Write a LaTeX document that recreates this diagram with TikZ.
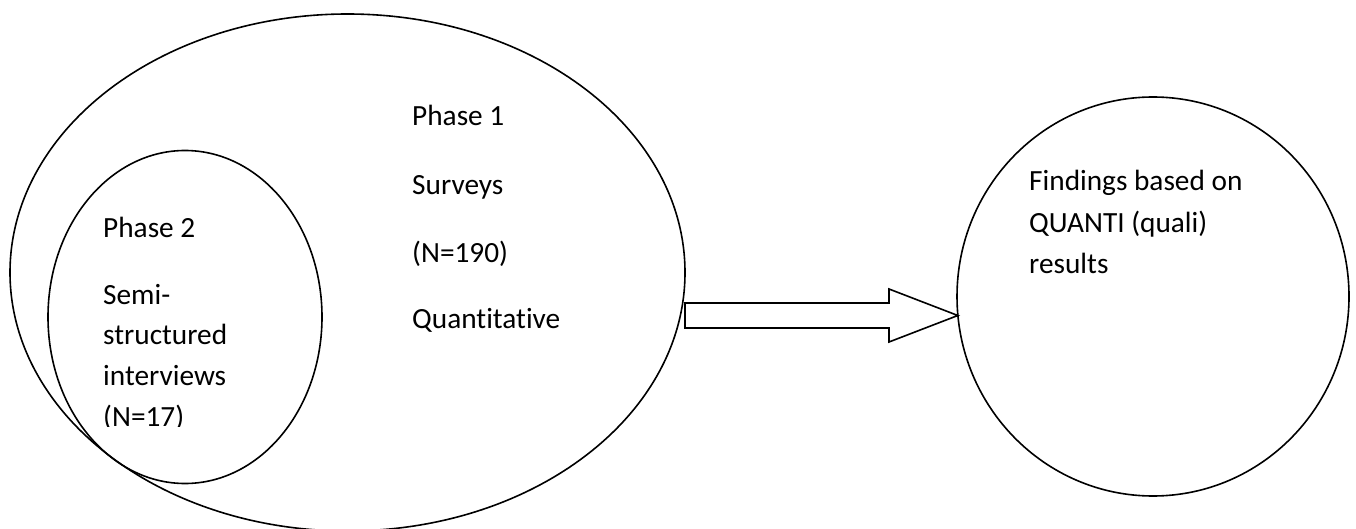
\documentclass[tikz,border=0pt]{standalone}
\usepackage{fontspec}
\setmainfont{Carlito}[Ligatures=NoCommon]
\usetikzlibrary{shapes.geometric,calc}
\begin{document}
\begin{tikzpicture}[x=1pt,y=-1pt,
  outline/.style={draw=black,line width=1.6pt,inner sep=0pt,outer sep=0pt},
  txt/.style={anchor=base west,inner sep=0pt,font=\fontsize{29.3}{35}\selectfont}]
\useasboundingbox (0,0) rectangle (1356,529);
% phase ovals
\node[outline,ellipse,minimum width=675pt,minimum height=517pt] (phase1) at (347.5,272.5) {};
\node[outline,ellipse,minimum width=274pt,minimum height=333pt] (phase2) at (185,317) {};
% result oval
\node[outline,ellipse,minimum width=392pt,minimum height=399pt] (findings) at (1153,296.5) {};
% block arrow from the study phases to the findings
\coordinate (tail) at (phase1.east |- 0,315.5);
\coordinate (tip) at (957.8,315.5);
\draw[line width=1.6pt,line join=miter]
  ($(tail)+(0,-12.5)$) -- ($(tip)+(-68.8,-12.5)$) -- ($(tip)+(-68.8,-26.5)$) -- (tip)
  -- ($(tip)+(-68.8,26.5)$) -- ($(tip)+(-68.8,12.5)$) -- ($(tail)+(0,12.5)$) -- cycle;
% phase 1 text
\node[txt] (p1a) at (412,126) {Phase 1};
\node[txt] (p1b) at (412,195) {Surveys};
\node[txt] (p1c) at (412,262) {(N=190)};
\node[txt] (p1d) at (412,328) {Quantitative};
% phase 2 text (last line cut by its text box)
\node[txt] (p2a) at (103,237) {Phase 2};
\node[txt] (p2b) at (103,304) {Semi-};
\node[txt] (p2c) at (103,344) {structured};
\node[txt] (p2d) at (103,385) {interviews};
\begin{scope}
  \clip (90,390) rectangle (300,426.5);
  \node[txt] (p2e) at (103,426) {(N=17)};
\end{scope}
% findings text
\node[txt] (f1) at (1029,191) {Findings based on};
\node[txt] (f2) at (1029,233) {QUANTI (quali)};
\node[txt] (f3) at (1029,273) {results};
\end{tikzpicture}
\end{document}
